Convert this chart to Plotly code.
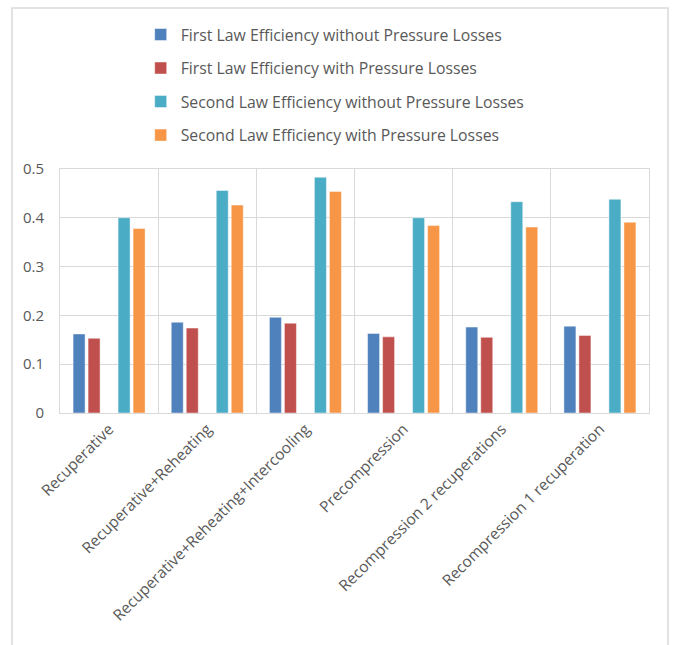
import plotly.graph_objects as go

categories = ["Recuperative", "Recuperative+Reheating", "Recuperative+Reheating+Intercooling",
              "Precompression", "Recompression 2 recuperations", "Recompression 1 recuperation"]
first_without = [0.162, 0.186, 0.196, 0.163, 0.176, 0.178]
first_with = [0.153, 0.174, 0.184, 0.156, 0.155, 0.159]
second_without = [0.400, 0.456, 0.483, 0.400, 0.433, 0.438]
second_with = [0.378, 0.426, 0.454, 0.384, 0.381, 0.391]

names = ["First Law Efficiency without Pressure Losses",
         "First Law Efficiency with Pressure Losses",
         "Second Law Efficiency without Pressure Losses",
         "Second Law Efficiency with Pressure Losses"]
colors = ["#4F81BD", "#C0504D", "#4BACC6", "#F79646"]
y_ticks = [0, 0.1, 0.2, 0.3, 0.4, 0.5]
y_tick_text = ["0", "0.1", "0.2", "0.3", "0.4", "0.5"]

FONT = "Open Sans"
GRAY = "#595959"
GRID = "#d9d9d9"

fig = go.Figure()
series = [first_without, first_with, None, second_without, second_with]
k = 0
for i, vals in enumerate(series):
    if vals is None:
        fig.add_trace(go.Bar(x=categories, y=[None] * len(categories), showlegend=False,
                             hoverinfo="skip", marker=dict(line=dict(width=0))))
        continue
    fig.add_trace(go.Bar(x=categories, y=vals, name=names[k], legendgroup=names[k],
                         marker=dict(color=colors[k], line=dict(color="rgba(255,255,255,0.45)", width=1))))
    k += 1

fig.update_layout(
    width=676, height=645,
    margin=dict(l=60, r=27, t=169, b=232),
    paper_bgcolor="white", plot_bgcolor="white",
    barmode="group", bargap=0.236, bargroupgap=0.2,
    font=dict(family=FONT, color=GRAY, size=14),
    legend=dict(x=0.137, y=1.62, xanchor="left", yanchor="top",
                font=dict(size=15.8, color=GRAY, family=FONT), tracegroupgap=10,
                itemwidth=30, bgcolor="rgba(0,0,0,0)"),
    xaxis=dict(type="category", tickson="boundaries", showgrid=True, gridcolor=GRID, gridwidth=1,
               showline=True, linecolor=GRID, mirror=True, linewidth=1, tickangle=-45, ticks="",
               tickfont=dict(size=15.5, color=GRAY, family=FONT)),
    yaxis=dict(range=[0, 0.5], tickvals=y_ticks, ticktext=y_tick_text, showgrid=True,
               gridcolor=GRID, gridwidth=1, showline=True, linecolor=GRID, mirror=True,
               zeroline=False, ticks="", ticklabelstandoff=12,
               tickfont=dict(size=15, color=GRAY, family=FONT)),
    shapes=[dict(type="rect", xref="paper", yref="paper", x0=-0.0815, x1=1.0323,
                 y0=-1.0, y1=1.6598, line=dict(color=GRID, width=1.5), fillcolor="rgba(0,0,0,0)",
                 layer="below")],
)

fig.write_html("out.html")
